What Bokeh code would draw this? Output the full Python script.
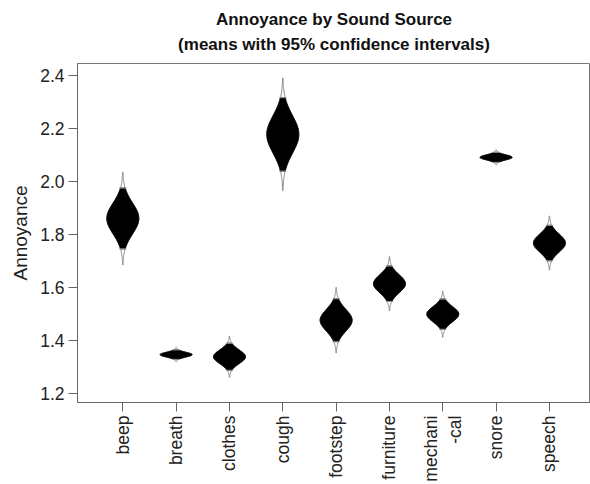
import numpy as np
from bokeh.plotting import figure
from bokeh.models import Range1d, FixedTicker, PrintfTickFormatter, Title
from bokeh.embed import file_html
from bokeh.resources import INLINE

categories = ["beep", "breath", "clothes", "cough", "footstep", "furniture", "mechanical", "snore", "speech"]
tick_labels = ["beep", "breath", "clothes", "cough", "footstep", "furniture", "mechani\n-cal", "snore", "speech"]
means = [1.861, 1.346, 1.338, 2.179, 1.476, 1.614, 1.499, 2.092, 1.768]
ci_lower = [1.746, 1.328, 1.287, 2.040, 1.395, 1.547, 1.442, 2.073, 1.701]
ci_upper = [1.976, 1.364, 1.389, 2.318, 1.557, 1.681, 1.556, 2.111, 1.835]
y_ticks = [1.2, 1.4, 1.6, 1.8, 2.0, 2.2, 2.4]
title_lines = ["Annoyance by Sound Source", "(means with 95% confidence intervals)"]

FONT = "Liberation Sans"
HALF_W = 0.30

p = figure(width=590, height=484, output_backend="svg", toolbar_location=None,
           x_range=Range1d(0.15, 9.77), y_range=Range1d(1.165, 2.447),
           min_border_left=77, min_border_right=0, min_border_top=63, min_border_bottom=78)

sub = Title(text=title_lines[1], align="center", text_font=FONT, text_font_size="17px",
            text_font_style="bold", text_color="#111111", standoff=19)
main = Title(text=title_lines[0], align="center", text_font=FONT, text_font_size="17px",
             text_font_style="bold", text_color="#111111", standoff=-11)
p.add_layout(sub, "above")
p.add_layout(main, "above")

outer_xs, outer_ys, inner_xs, inner_ys = [], [], [], []
tick_x0, tick_x1, tick_y = [], [], []
for i, (m, lo, hi) in enumerate(zip(means, ci_lower, ci_upper)):
    xc = i + 1
    se = (hi - lo) / (2 * 1.96)
    for zmax, xs_list, ys_list in ((3.0, outer_xs, outer_ys), (1.96, inner_xs, inner_ys)):
        z = np.linspace(-zmax, zmax, 121)
        w = HALF_W * np.exp(-z ** 2 / 2)
        ys = m + z * se
        xs_poly = np.concatenate([xc + w, (xc - w)[::-1]])
        ys_poly = np.concatenate([ys, ys[::-1]])
        xs_list.append(list(xs_poly))
        ys_list.append(list(ys_poly))
    wc = HALF_W * np.exp(-1.96 ** 2 / 2) * 1.6
    for yv in (lo, hi):
        tick_x0.append(xc - wc)
        tick_x1.append(xc + wc)
        tick_y.append(yv)

p.patches(xs=outer_xs, ys=outer_ys, fill_color="white", line_color="#888888", line_width=1)
p.patches(xs=inner_xs, ys=inner_ys, fill_color="black", line_color="black", line_width=1)
p.segment(x0=tick_x0, y0=tick_y, x1=tick_x1, y1=tick_y, line_color="#999999", line_width=1)

p.xgrid.visible = False
p.ygrid.visible = False
p.outline_line_color = "#777777"

p.xaxis.ticker = FixedTicker(ticks=list(range(1, len(categories) + 1)))
p.xaxis.major_label_overrides = {i + 1: lab for i, lab in enumerate(tick_labels)}
p.xaxis.major_label_orientation = np.pi / 2
p.yaxis.ticker = FixedTicker(ticks=y_ticks)
p.yaxis.formatter = PrintfTickFormatter(format="%.1f")
p.yaxis.axis_label = "Annoyance"

for ax in (p.xaxis[0], p.yaxis[0]):
    ax.axis_line_color = "#666666"
    ax.major_tick_line_color = "#666666"
    ax.minor_tick_line_color = None
    ax.major_tick_in = 0
    ax.major_tick_out = 9
    ax.major_label_standoff = 4
    ax.major_label_text_font = FONT
    ax.major_label_text_font_size = "17.5px"
    ax.major_label_text_color = "#222222"

p.yaxis.axis_label_text_font = FONT
p.yaxis.axis_label_text_font_size = "19px"
p.yaxis.axis_label_text_font_style = "normal"
p.yaxis.axis_label_text_color = "#222222"
p.yaxis.axis_label_standoff = 6

open("out.html", "w").write(file_html(p, INLINE))
